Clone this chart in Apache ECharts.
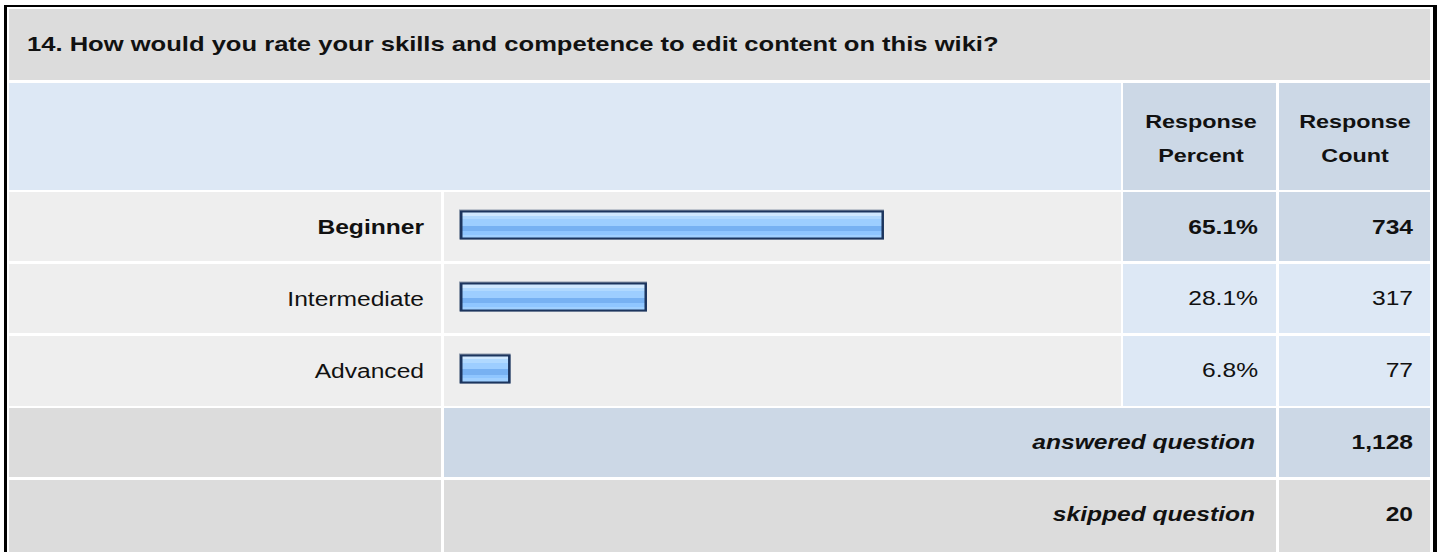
<!DOCTYPE html>
<html>
<head>
<meta charset="utf-8">
<script src="https://cdn.jsdelivr.net/npm/echarts@6/dist/echarts.min.js"></script>
<style>
  html, body { margin: 0; padding: 0; background: #fff; overflow: hidden; }
  #main { height: 552px; transform-origin: 0 0; }
</style>
</head>
<body>
<div id="main"></div>
<script>
const title = '14. How would you rate your skills and competence to edit content on this wiki?'
const categories = ['Beginner', 'Intermediate', 'Advanced']
const percents = [65.1, 28.1, 6.8]
const counts = [734, 317, 77]
const headers = ['Response\nPercent', 'Response\nCount']
const answered = 1128
const skipped = 20

// the source picture is stretched sideways, so draw narrower and scale the box
const S = 1.23
const X = px => px / S
const FONT = '"Liberation Sans", Arial, sans-serif'

const el = document.getElementById('main')
el.style.width = (1440 / S) + 'px'
el.style.transform = 'scaleX(' + S + ')'

const maxIdx = percents.indexOf(Math.max(...percents))

function cell (x0, x1, y0, y1, color) {
  return { type: 'rect', z: -10, shape: { x: X(x0), y: y0, width: X(x1 - x0), height: y1 - y0 }, style: { fill: color } }
}
function txt (text, x, y, align, weight, size) {
  return {
    type: 'text', z: 5, x: X(x), y: y,
    style: {
      text: text, fill: '#111', font: weight + ' ' + (size || 20) + 'px ' + FONT,
      align: align, textAlign: align, verticalAlign: 'middle', textVerticalAlign: 'middle',
      lineHeight: 34
    }
  }
}

const rowsY = [[192, 261], [264, 333], [336, 406]]
const textY = [227, 298, 370]
const dark = '#ccd8e6'
const light = '#dde8f5'
const grey = '#dcdcdc'
const pale = '#eeeeee'

const graphics = [
  cell(4, 1437, 5, 600, '#000'),
  cell(7, 1433, 7, 600, '#fff'),
  cell(9, 1430, 9, 80, grey),
  cell(9, 1121, 83, 190, light),
  cell(1123, 1276, 83, 190, dark),
  cell(1279, 1430, 83, 190, dark),
  cell(9, 441, 408, 477, grey),
  cell(444, 1276, 408, 477, dark),
  cell(1279, 1430, 408, 477, dark),
  cell(9, 441, 480, 560, grey),
  cell(444, 1276, 480, 560, grey),
  cell(1279, 1430, 480, 560, grey),
  txt(title, 27, 44, 'left', 'bold', 20.8),
  txt(headers[0], 1201, 139, 'center', 'bold', 19),
  txt(headers[1], 1355, 139, 'center', 'bold', 19),
  txt('answered question', 1255, 442, 'right', 'italic bold'),
  txt(answered.toLocaleString('en-US'), 1413, 442, 'right', 'bold'),
  txt('skipped question', 1255, 514, 'right', 'italic bold'),
  txt(skipped.toLocaleString('en-US'), 1413, 514, 'right', 'bold')
]
rowsY.forEach(function (r, i) {
  const c = i === maxIdx ? dark : light
  const w = i === maxIdx ? 'bold' : 'normal'
  graphics.push(cell(9, 441, r[0], r[1], pale))
  graphics.push(cell(444, 1121, r[0], r[1], pale))
  graphics.push(cell(1123, 1276, r[0], r[1], c))
  graphics.push(cell(1279, 1430, r[0], r[1], c))
  graphics.push(txt(percents[i].toFixed(1) + '%', 1258, textY[i], 'right', w))
  graphics.push(txt(String(counts[i]), 1413, textY[i], 'right', w))
})

const barFill = {
  type: 'linear', x: 0, y: 0, x2: 0, y2: 1,
  colorStops: [
    { offset: 0, color: '#cfe8ff' },
    { offset: 0.12, color: '#cfe8ff' },
    { offset: 0.12, color: '#b0d9ff' },
    { offset: 0.26, color: '#b0d9ff' },
    { offset: 0.26, color: '#9dceff' },
    { offset: 0.52, color: '#9dceff' },
    { offset: 0.52, color: '#77b1f2' },
    { offset: 0.72, color: '#77b1f2' },
    { offset: 0.72, color: '#8fc6ff' },
    { offset: 0.88, color: '#8fc6ff' },
    { offset: 0.88, color: '#a0d0ff' },
    { offset: 1, color: '#a0d0ff' }
  ]
}

// the bar picture carries a fixed frame on top of its percent length
const PAD = 7
function renderBar (params, api) {
  const start = api.coord([0, api.value(1)])
  const end = api.coord([api.value(0), api.value(1)])
  const h = 29
  const x0 = start[0] - X(PAD)
  const w = end[0] - x0
  const y0 = start[1] - h / 2 - 1.5
  return {
    type: 'group',
    children: [
      { type: 'rect', shape: { x: x0 - X(1), y: y0 - 1, width: w + X(1), height: h + 1 }, style: { fill: '#8e9aab' } },
      { type: 'rect', shape: { x: x0, y: y0, width: w, height: h }, style: { fill: '#1c355e' } },
      { type: 'rect', shape: { x: x0 + X(2.5), y: y0 + 2, width: w - X(5), height: h - 4 }, style: { fill: barFill } }
    ]
  }
}

const chart = echarts.init(el, null, { renderer: 'svg' })
const option = {
  animation: false,
  graphic: { elements: graphics },
  grid: { left: X(467), width: X(640.5), top: 190.5, height: 216 },
  xAxis: { type: 'value', min: 0, max: 100, show: false },
  yAxis: {
    type: 'category',
    inverse: true,
    data: categories,
    axisLine: { show: false },
    axisTick: { show: false },
    splitLine: { show: false },
    axisLabel: {
      margin: X(43),
      formatter: function (v, i) {
        return i === maxIdx ? '{b|' + v + '}' : '{n|' + v + '}'
      },
      rich: {
        b: { fontFamily: FONT, fontSize: 20, fontWeight: 'bold', color: '#111', padding: [1, 0, 0, 0] },
        n: { fontFamily: FONT, fontSize: 20, color: '#111', padding: [1, 0, 0, 0] }
      }
    }
  },
  series: [
    {
      type: 'custom',
      z: 10,
      silent: true,
      renderItem: renderBar,
      encode: { x: 0, y: 1 },
      data: percents.map((p, i) => [p, i])
    }
  ]
}
chart.setOption(option)
</script>
</body>
</html>
